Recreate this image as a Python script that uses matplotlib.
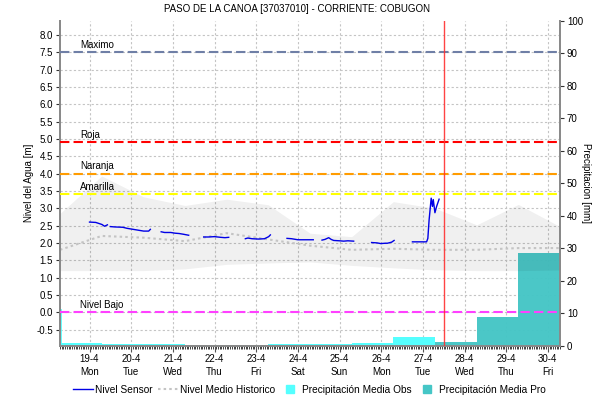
import matplotlib
matplotlib.use("Agg")
import matplotlib.pyplot as plt
import matplotlib.dates as mdates
import numpy as np
import pandas as pd
from matplotlib.lines import Line2D
from matplotlib.transforms import blended_transform_factory

plt.rcParams['font.family'] = ['Liberation Sans', 'DejaVu Sans']

TITLE = "PASO DE LA CANOA [37037010] - CORRIENTE: COBUGON"

# Historic range and mean level (daily, 07:00)
band_times = pd.date_range("2021-04-18 07:00", periods=13, freq="D")
band_upper = [2.85, 3.93, 3.33, 3.08, 3.26, 3.10, 2.28, 2.18, 3.19, 3.00, 2.52, 3.11, 2.47]
band_lower = [1.20, 1.20, 1.20, 1.25, 1.38, 1.42, 1.45, 1.35, 1.28, 1.22, 1.20, 1.20, 1.22]
hist_mean = [1.80, 2.20, 2.15, 2.05, 2.28, 2.10, 1.92, 1.80, 1.83, 1.80, 1.80, 1.85, 1.85]

# Sensor level: days after 2021-04-19 00:00 (nan = no data)
sensor_day = [0.00, 0.15, 0.20, 0.30, 0.36, 0.43, 0.46,
              0.50, 0.60, 0.80, 0.90, 1.05, 1.20, 1.30, 1.42, 1.46, 1.55,
              1.72, 1.80, 1.95, 2.05, 2.15, 2.25, 2.38, 2.50,
              2.74, 2.85, 3.00, 3.15, 3.25, 3.34, 3.50,
              3.74, 3.80, 3.90, 4.05, 4.20, 4.30, 4.34, 4.50,
              4.74, 4.85, 5.00, 5.37, 5.45,
              5.58, 5.65, 5.74, 5.80, 5.86, 6.00, 6.10, 6.20, 6.34, 6.50,
              6.77, 6.90, 6.99, 7.10, 7.15, 7.25, 7.31, 7.50,
              7.75, 8.09, 8.12, 8.15, 8.20, 8.23, 8.25, 8.29, 8.33, 8.39]
sensor_level = [2.60, 2.59, 2.57, 2.53, 2.48, 2.52, np.nan,
                2.47, 2.46, 2.45, 2.42, 2.39, 2.36, 2.34, 2.34, 2.39, np.nan,
                2.32, 2.30, 2.30, 2.28, 2.27, 2.25, 2.22, np.nan,
                2.17, 2.17, 2.18, 2.16, 2.15, 2.16, np.nan,
                2.12, 2.14, 2.12, 2.11, 2.12, 2.18, 2.23, np.nan,
                2.13, 2.12, 2.09, 2.09, np.nan,
                2.08, 2.10, 2.15, 2.10, 2.07, 2.06, 2.05, 2.06, 2.05, np.nan,
                2.01, 2.00, 1.98, 1.99, 1.99, 2.02, 2.07, np.nan,
                2.03, 2.03, 2.13, 2.66, 3.29, 3.05, 3.25, 2.87, 3.05, 3.26]

# Daily precipitation [mm], periods starting 07:00
obs_start = pd.date_range("2021-04-17 07:00", periods=10, freq="D")
obs_mm = [10.8, 0.9, 0.5, 0.5, 0.3, 0.3, 0.6, 0.4, 0.9, 2.5]
pro_start = pd.date_range("2021-04-27 07:00", periods=3, freq="D")
pro_mm = [1.2, 8.7, 28.5]

# Alert thresholds [m]
thr_names = ["Maximo", "Roja", "Naranja", "Amarilla", "Nivel Bajo"]
thr_values = [7.5, 4.9, 4.0, 3.4, 0.0]
thr_colors = ["#6f7fa6", "#ff0000", "#ff9c00", "#ffff00", "#ff40ff"]

now_time = pd.Timestamp("2021-04-27 12:00")
day_ticks = pd.date_range("2021-04-19", "2021-04-30", freq="D")
tick_labels = [f"{d.day}-{d.month}\n{d.strftime('%a')}" for d in day_ticks]
level_ticks = np.arange(-0.5, 8.01, 0.5)
precip_ticks = np.arange(0, 101, 10)

x0, x1 = pd.Timestamp("2021-04-18 07:00"), pd.Timestamp("2021-04-30 07:00")
y1lim = (-0.96, 8.40)
y2lim = (0, 100)

fig = plt.figure(figsize=(5.95, 4.01), dpi=100)
ax1 = fig.add_axes([60 / 595, 1 - 345.5 / 401, 500 / 595, 324.5 / 401])
ax2 = ax1.twinx()
ax1.set_zorder(2)
ax2.set_zorder(1)
ax1.patch.set_visible(False)

ax1.set_xlim(x0, x1)
ax1.set_ylim(*y1lim)
ax2.set_ylim(*y2lim)

# grid lives on the lower axes so the bars cover it
grid_kw = dict(color="#c4c4c4", linewidth=0.8, linestyle=(0, (2, 2)), zorder=0)
for d in day_ticks:
    ax2.axvline(d, **grid_kw)
for lv in level_ticks:
    mm = (lv - y1lim[0]) / (y1lim[1] - y1lim[0]) * (y2lim[1] - y2lim[0])
    ax2.axhline(mm, **grid_kw)

# precipitation bars
widths = pd.Timedelta(days=1)
ax2.bar(obs_start, obs_mm, width=widths, align="edge", color="#55ffff",
        edgecolor="#55ffff", linewidth=[2] + [0] * (len(obs_mm) - 1), zorder=2)
ax2.bar(pro_start, pro_mm, width=widths, align="edge", color="#45c6c6",
        alpha=0.97, linewidth=0, zorder=1.5)

# historic band and mean
ax1.fill_between(band_times, band_lower, band_upper, color="black", alpha=0.06,
                 linewidth=0, zorder=1)
ax1.plot(band_times, hist_mean, color="#c4c4c4", linewidth=1.5,
         linestyle=(0, (1.2, 1.5)), zorder=2)

# thresholds
lbl_tr = blended_transform_factory(ax1.transAxes, ax1.transData)
for name, val, col in zip(thr_names, thr_values, thr_colors):
    ax1.axhline(val, color=col, linewidth=1.5, linestyle=(0, (4.5, 2)), zorder=3)
    ax1.text(0.04, val + 0.06, name, transform=lbl_tr, fontsize=7,
             ha="left", va="bottom", zorder=4)

# sensor
sensor_t = pd.Timestamp("2021-04-19") + pd.to_timedelta(sensor_day, unit="D")
ax1.plot(sensor_t, sensor_level, color="#0000e6", linewidth=1.0, zorder=5)

ax1.axvline(now_time, color="#ff3030", linewidth=1.0, alpha=0.9, zorder=6)

# axes styling
ax1.set_xticks(day_ticks)
ax1.set_xticklabels(tick_labels, fontsize=7, linespacing=1.35)
ax1.xaxis.set_minor_locator(mdates.HourLocator())
ax1.tick_params(axis="x", which="major", length=4, width=0.8, color="#555555", pad=2)
ax1.tick_params(axis="x", which="minor", length=2, width=0.6, color="#222222")
ax1.set_yticks(level_ticks)
ax1.set_yticklabels([f"{v:.1f}" for v in level_ticks], fontsize=7)
ax1.tick_params(axis="y", length=3, width=0.8, color="#333333", pad=2)
ax2.set_yticks(precip_ticks)
ax2.set_yticklabels([str(v) for v in precip_ticks], fontsize=7)
ax2.tick_params(axis="y", length=3, width=0.8, color="#333333", pad=2)

for ax in (ax1, ax2):
    ax.spines["top"].set_visible(False)
    for s in ("left", "right", "bottom"):
        ax.spines[s].set_color("#8a8a8a")
        ax.spines[s].set_linewidth(1.4)

ax1.set_ylabel("Nivel del Agua [m]", fontsize=7, labelpad=2)
ax2.set_ylabel("Precipitacion [mm]", fontsize=7, rotation=270, labelpad=6)

fig.text(0.5, 1 - 9 / 401, TITLE, ha="center", va="center", fontsize=7)

handles = [
    Line2D([], [], color="#0000e6", linewidth=1.0),
    Line2D([], [], color="#c4c4c4", linewidth=1.5, linestyle=(0, (1.2, 1.5))),
    Line2D([], [], marker="s", markersize=6, linestyle="None",
           markerfacecolor="#55ffff", markeredgecolor="#55ffff"),
    Line2D([], [], marker="s", markersize=6, linestyle="None",
           markerfacecolor="#45c6c6", markeredgecolor="#45c6c6"),
]
labels = ["Nivel Sensor", "Nivel Medio Historico",
          "Precipitación Media Obs", "Precipitación Media Pro"]
fig.legend(handles, labels, loc="center", bbox_to_anchor=(0.52, 1 - 390 / 401),
           ncol=4, frameon=False, fontsize=7.3, handlelength=2.0,
           handletextpad=0.2, columnspacing=0.5, borderpad=0)

fig.savefig("out.png", dpi=100, facecolor="white")
